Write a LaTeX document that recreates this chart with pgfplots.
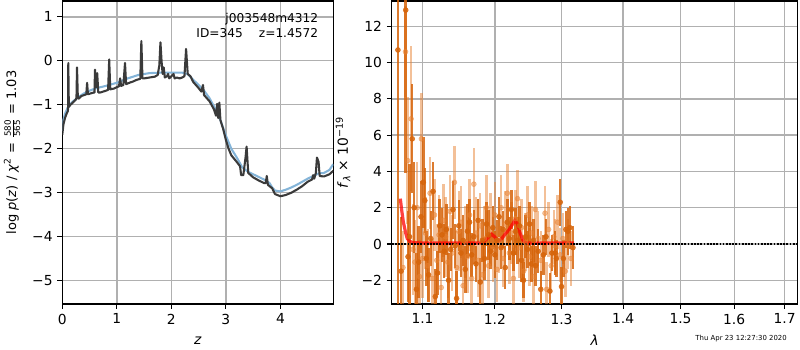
\documentclass[border=0pt]{standalone}
\usepackage{fontspec}
\setmainfont{DejaVu Sans}
\usepackage{pgfplots}
\usepackage{pgfplotstable}
\pgfplotsset{compat=1.18}
\definecolor{darkc}{RGB}{58,58,58}
\definecolor{bluec}{RGB}{132,180,216}
\definecolor{dorange}{RGB}{214,100,10}
\definecolor{lorange}{RGB}{232,130,50}
\definecolor{gridc}{RGB}{176,176,176}

\pgfplotstableread{
x y e
1.068 10.7 14
1.072 -1.5 3
1.078 12.9 9
1.081 -0.7 2.5
1.083 0.4 4
1.0865 5.8 3
1.089 2.0 2.5
1.092 -2.5 2
1.095 -1.0 2
1.098 1.5 2
1.101 3.4 2.5
1.103 2.4 1.8
1.105 -0.8 1.5
1.108 -1.7 1.5
1.111 0.3 1.5
1.114 2.9 1.6
1.117 -2.9 1.5
1.12 -1.6 1.2
1.123 1.0 1.5
1.126 0.5 1.5
1.129 -0.4 1.5
1.132 0.8 1.4
1.135 -2.0 1.5
1.138 -0.3 1.2
1.141 1.9 1.6
1.144 -0.1 1.2
1.146 -3.0 1.5
1.149 1.0 1.4
1.152 -0.5 1.3
1.155 0.2 1.4
1.158 -1.4 1.3
1.161 0.7 1.5
1.164 1.2 1.3
1.167 -0.6 1.2
1.17 0.4 1.5
1.173 -1.1 1.0
1.176 1.3 1.2
1.179 -2.1 1.3
1.182 0.2 1.2
1.185 -0.8 1.2
1.188 1.1 1.2
1.191 0.5 1.4
1.194 -0.4 1.0
1.197 0.9 1.2
1.2 -0.6 1.3
1.203 0.2 1.1
1.206 1.5 1.1
1.209 -0.2 1.2
1.212 0.8 1.0
1.215 -1.3 1.2
1.218 1.2 1.3
1.221 0.3 1.2
1.224 1.9 1.1
1.227 -0.5 1.0
1.23 0.7 1.3
1.233 0.2 1.3
1.236 1.0 1.1
1.239 -0.9 1.2
1.242 -2.0 1.0
1.245 0.4 1.2
1.248 -0.3 1.0
1.251 1.1 1.2
1.254 -1.1 1.0
1.257 0.2 1.2
1.26 -1.2 1.1
1.264 -0.4 1.2
1.268 -2.5 1.0
1.272 -0.6 1.1
1.276 0.4 1.0
1.282 -2.6 1.0
1.285 -0.5 1.0
1.29 -0.5 1.2
1.292 -0.8 1.0
1.298 2.3 1.3
1.3 -2.35 1.1
1.303 -0.8 1.0
1.307 0.8 1.0
1.31 0.7 1.3
1.313 0.9 1.2
1.318 -0.2 1.2
}\darkdata

\pgfplotstableread{
x y e
1.0745 -1.3 2
1.0777 10.6 2.5
1.0805 4.6 3.5
1.085 6.9 4
1.0875 -0.3 2.5
1.09 -1.0 2.3
1.093 2.0 2.5
1.096 -1.8 2
1.0985 5.8 2.5
1.10 -0.8 2.2
1.104 0.6 2
1.107 -1.2 2
1.11 2.8 2
1.113 -1.9 2.2
1.116 1.6 2
1.119 -0.9 2
1.122 0.5 2.2
1.125 -2.4 2
1.128 1.3 2
1.131 0.4 2.2
1.134 -1.0 2
1.137 1.8 2
1.14 -0.5 2.1
1.143 3.4 2
1.146 -1.3 2
1.149 0.7 2.2
1.152 1.2 2
1.155 -2.3 2
1.158 0.1 2
1.161 -0.7 2
1.164 1.6 2
1.167 -1.9 2
1.17 3.3 2
1.173 0.6 2
1.176 -0.9 2
1.179 1.0 1.8
1.182 -1.7 2
1.185 0.3 1.8
1.188 2.0 1.8
1.191 -1.2 1.8
1.194 0.8 2
1.197 -0.3 1.8
1.2 1.6 1.8
1.203 -1.4 1.8
1.206 0.2 1.8
1.209 2.0 1.8
1.212 -0.8 1.6
1.215 1.1 1.8
1.218 2.8 1.6
1.221 -0.5 1.7
1.224 0.6 1.7
1.227 -1.9 1.7
1.23 1.4 1.6
1.233 2.5 1.6
1.236 -0.2 1.7
1.239 0.9 1.6
1.242 -1.5 1.7
1.245 0.1 1.6
1.248 1.6 1.6
1.251 -0.7 1.6
1.254 0.6 1.5
1.257 -1.8 1.6
1.26 1.9 1.6
1.264 0.3 1.5
1.268 -0.9 1.6
1.2745 1.7 1.5
1.277 -2.5 1.5
1.28 0.8 1.5
1.284 -1.2 1.5
1.288 0.4 1.5
1.29 -0.1 1.5
1.294 1.2 1.5
1.298 -0.6 1.5
1.302 0.3 1.4
1.306 -1.5 1.4
1.31 0.0 1.4
1.315 -0.8 1.5
}\lightdata

\begin{document}
\begin{tikzpicture}
\useasboundingbox (0,0) rectangle (8in,3.5in);
\pgfplotsset{every axis/.append style={
  scale only axis, axis line style={line width=0.8pt},
  tick align=outside, major tick length=3.5pt,
  xtick pos=bottom, ytick pos=left,
  every tick/.style={black, line width=0.8pt},
  grid=major, grid style={gridc, line width=1pt},
  tick label style={font=\fontsize{10}{12}\selectfont},
  label style={font=\fontsize{10}{12}\selectfont},
  clip=true}}
% left
\begin{axis}[at={(0.623in,0.46in)}, anchor=south west,
  width=2.71in, height=3.03in,
  xmin=0, xmax=4.97, ymin=-5.53, ymax=1.36,
  xtick={0,1,2,3,4}, xticklabels={0,1,2,3,4},
  ytick={-5,-4,-3,-2,-1,0,1}, yticklabels={−5,−4,−3,−2,−1,0,1},
  xlabel={\textit{z}},
  xlabel style={at={(axis description cs:0.5,-0.12)}, anchor=center},
  ylabel={log \textit{p}(\textit{z}) / \textit{χ}\textsuperscript{2} = $\frac{\mbox{\fontsize{6.3}{6.5}\selectfont 580}}{\mbox{\fontsize{6.3}{6.5}\selectfont 565}}$ = 1.03},
  ylabel style={at={(axis description cs:-0.185,0.5)}, anchor=center, font=\fontsize{9.4}{11}\selectfont},
]
\addplot[bluec, line width=1.5pt] coordinates {
(0,-1.6) (0.02,-1.35) (0.05,-1.2) (0.1,-1.07) (0.15,-0.98) (0.2,-0.92) (0.3,-0.82) (0.4,-0.74) (0.5,-0.68) (0.6,-0.63) (0.8,-0.57) (1.0,-0.5) (1.2,-0.4) (1.4,-0.32) (1.6,-0.28) (1.8,-0.27) (2.0,-0.27) (2.2,-0.27) (2.3,-0.3) (2.4,-0.43) (2.5,-0.55) (2.6,-0.68) (2.7,-0.85) (2.8,-1.08) (2.9,-1.35) (3.0,-1.7) (3.1,-2.0) (3.2,-2.2) (3.3,-2.42) (3.4,-2.52) (3.5,-2.58) (3.6,-2.64) (3.7,-2.7) (3.8,-2.78) (3.85,-2.88) (3.9,-2.95) (4.0,-2.97) (4.1,-2.93) (4.2,-2.88) (4.3,-2.82) (4.4,-2.75) (4.5,-2.68) (4.6,-2.62) (4.7,-2.56) (4.8,-2.55) (4.9,-2.48) (4.97,-2.35)};
\addplot[darkc, line width=1.5pt, line join=round] coordinates {
(0,-1.68) (0.02,-1.45) (0.05,-1.3) (0.08,-1.2) (0.1,-1.15) (0.105,-1.1) (0.11,-0.05) (0.12,-1.05) (0.15,-1.0) (0.2,-0.94) (0.25,-0.88) (0.26,-0.84) (0.27,-0.15) (0.285,-0.84) (0.3,-0.86) (0.35,-0.8) (0.4,-0.78) (0.44,-0.76) (0.455,-0.5) (0.47,-0.76) (0.5,-0.75) (0.55,-0.73) (0.59,-0.72) (0.6,-0.2) (0.62,-0.6) (0.64,-0.28) (0.66,-0.72) (0.7,-0.72) (0.75,-0.7) (0.8,-0.68) (0.84,-0.66) (0.86,0.03) (0.88,-0.65) (0.95,-0.63) (1.0,-0.6) (1.04,-0.58) (1.06,-0.4) (1.08,-0.57) (1.12,-0.55) (1.15,-0.05) (1.17,-0.53) (1.25,-0.49) (1.3,-0.47) (1.35,-0.44) (1.4,-0.42) (1.43,-0.41) (1.45,0.45) (1.47,-0.4) (1.5,-0.4) (1.6,-0.38) (1.7,-0.36) (1.75,-0.32) (1.78,-0.1) (1.8,0.42) (1.82,0.0) (1.84,-0.3) (1.86,-0.15) (1.88,-0.38) (1.92,-0.35) (1.94,-0.3) (1.96,-0.4) (2.0,-0.35) (2.04,-0.3) (2.06,-0.4) (2.1,-0.38) (2.15,-0.4) (2.2,-0.38) (2.24,-0.35) (2.27,0.27) (2.3,-0.3) (2.35,-0.35) (2.4,-0.48) (2.5,-0.62) (2.55,-0.7) (2.58,-0.55) (2.6,-0.78) (2.7,-0.92) (2.78,-1.1) (2.82,-1.25) (2.84,-0.98) (2.86,-1.3) (2.88,-0.95) (2.9,-1.35) (2.95,-1.55) (3.0,-1.8) (3.05,-2.0) (3.1,-2.15) (3.2,-2.3) (3.26,-2.4) (3.28,-2.6) (3.32,-2.6) (3.36,-2.2) (3.38,-1.95) (3.41,-2.55) (3.5,-2.65) (3.6,-2.72) (3.7,-2.78) (3.73,-2.78) (3.75,-2.62) (3.77,-2.82) (3.85,-2.9) (3.9,-3.03) (4.0,-3.08) (4.1,-3.05) (4.2,-3.0) (4.3,-2.93) (4.4,-2.85) (4.5,-2.75) (4.58,-2.7) (4.6,-2.6) (4.62,-2.68) (4.65,-2.55) (4.67,-2.2) (4.7,-2.3) (4.72,-2.62) (4.8,-2.63) (4.9,-2.58) (4.97,-2.5)};
\node[anchor=north east, align=right, inner sep=0pt, font=\fontsize{8.8}{11.5}\selectfont] at (rel axis cs:0.945,0.962) {j003548m4312\\ID=345\quad\ z=1.4572};
\end{axis}
% right
\begin{axis}[at={(3.917in,0.46in)}, anchor=south west,
  width=4.06in, height=3.03in,
  xmode=log, xmin=1.06, xmax=1.727, ymin=-3.31, ymax=13.4,
  xtick={1.1,1.2,1.3,1.4,1.5,1.6,1.7}, xticklabels={1.1,1.2,1.3,1.4,1.5,1.6,1.7},
  minor xtick={},
  ytick={-2,0,2,4,6,8,10,12}, yticklabels={−2,0,2,4,6,8,10,12},
  xlabel={\textit{λ}},
  xlabel style={at={(axis description cs:0.5,-0.12)}, anchor=center},
  ylabel={\textit{f}\textsubscript{\textit{λ}} × 10\textsuperscript{−19}},
  ylabel style={at={(axis description cs:-0.12,0.5)}, anchor=center},
]
\addplot[only marks, mark=*, mark size=1.8pt, lorange, opacity=0.5,
  error bars/.cd, y dir=both, y explicit, error mark=none,
  error bar style={line width=1.8pt, lorange}]
  table[x=x, y=y, y error=e] {\lightdata};
\addplot[only marks, mark=*, mark size=1.8pt, dorange, opacity=0.85,
  error bars/.cd, y dir=both, y explicit, error mark=none,
  error bar style={line width=1.8pt, dorange}]
  table[x=x, y=y, y error=e] {\darkdata};
\addplot[red, opacity=0.75, line width=2.3pt] coordinates {
(1.071,2.5) (1.073,1.8) (1.075,1.2) (1.078,0.6) (1.08,0.3) (1.083,0.15) (1.087,0.08) (1.1,0.05) (1.15,0.05) (1.18,0.06) (1.185,0.15) (1.19,0.35) (1.195,0.55) (1.2,0.38) (1.205,0.15) (1.21,0.3) (1.215,0.55) (1.22,0.75) (1.225,1.05) (1.229,1.3) (1.233,1.1) (1.237,0.6) (1.241,0.2) (1.245,0.07) (1.25,0.05) (1.3,0.05) (1.32,0.05)};
\addplot[black, densely dotted, line width=1.3pt] coordinates {(1.06,0) (1.727,0)};
\end{axis}
\node[anchor=east, inner sep=0pt, font=\fontsize{5}{6}\selectfont] at (7.87in,0.11in) {Thu Apr 23 12:27:30 2020};
\end{tikzpicture}
\end{document}
